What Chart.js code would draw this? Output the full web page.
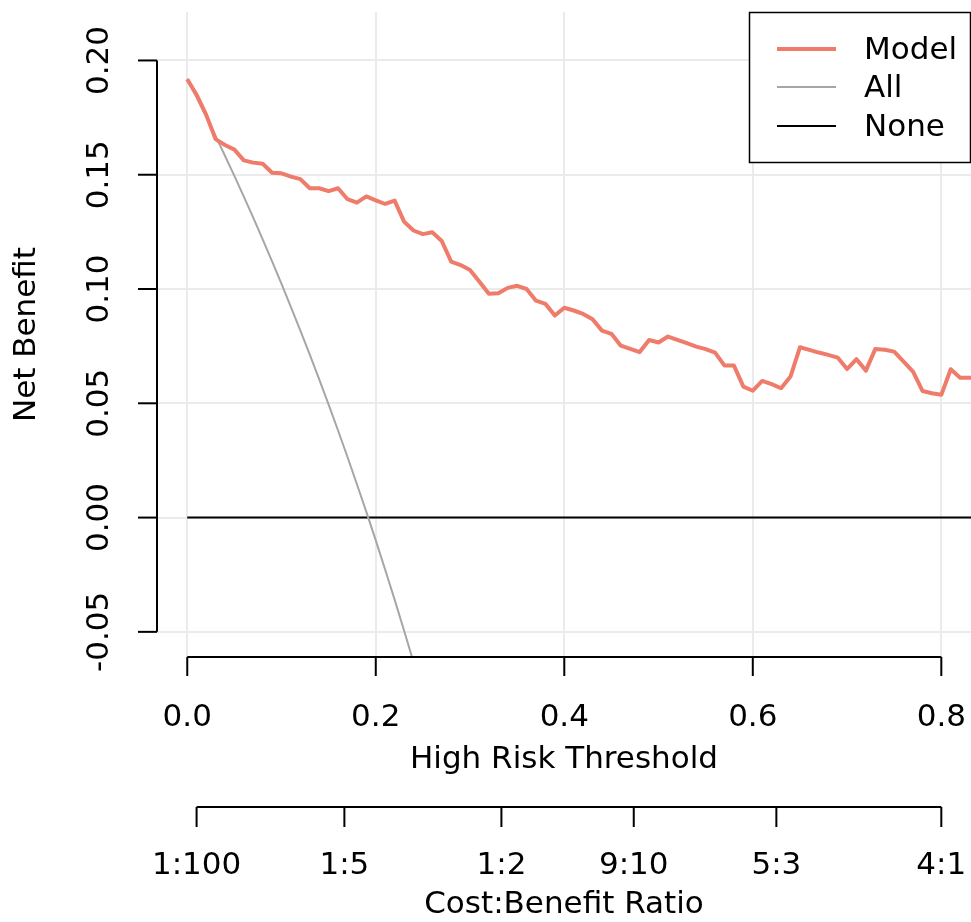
<!DOCTYPE html>
<html>
<head>
<meta charset="utf-8">
<script src="https://cdn.jsdelivr.net/npm/chart.js@4/dist/chart.umd.min.js"></script>
<style>
  body { margin: 0; background: #fff; }
  #wrap { width: 971px; height: 922px; }
</style>
</head>
<body>
<div id="wrap"><canvas id="dca" width="971" height="922"></canvas></div>
<script>
// thresholds (x) and net benefit values
const thresholds = [
    0.00, 0.01, 0.02, 0.03, 0.04, 0.05, 0.06, 0.07, 0.08, 0.09,
    0.10, 0.11, 0.12, 0.13, 0.14, 0.15, 0.16, 0.17, 0.18, 0.19,
    0.20, 0.21, 0.22, 0.23, 0.24, 0.25, 0.26, 0.27, 0.28, 0.29,
    0.30, 0.31, 0.32, 0.33, 0.34, 0.35, 0.36, 0.37, 0.38, 0.39,
    0.40, 0.41, 0.42, 0.43, 0.44, 0.45, 0.46, 0.47, 0.48, 0.49,
    0.50, 0.51, 0.52, 0.53, 0.54, 0.55, 0.56, 0.57, 0.58, 0.59,
    0.60, 0.61, 0.62, 0.63, 0.64, 0.65, 0.66, 0.67, 0.68, 0.69,
    0.70, 0.71, 0.72, 0.73, 0.74, 0.75, 0.76, 0.77, 0.78, 0.79,
    0.80, 0.81, 0.82, 0.83, 0.84
];
const modelNB = [
    0.1918, 0.1849, 0.1763, 0.1656, 0.1630, 0.1610, 0.1563, 0.1553, 0.1548, 0.1509,
    0.1506, 0.1492, 0.1481, 0.1441, 0.1441, 0.1428, 0.1441, 0.1393, 0.1378, 0.1405,
    0.1388, 0.1372, 0.1387, 0.1295, 0.1256, 0.1240, 0.1248, 0.1210, 0.1120, 0.1105,
    0.1083, 0.1032, 0.0979, 0.0982, 0.1005, 0.1014, 0.1000, 0.0949, 0.0935, 0.0884,
    0.0918, 0.0906, 0.0891, 0.0868, 0.0818, 0.0804, 0.0752, 0.0738, 0.0724, 0.0777,
    0.0766, 0.0792, 0.0777, 0.0763, 0.0748, 0.0737, 0.0722, 0.0665, 0.0665, 0.0573,
    0.0555, 0.0598, 0.0584, 0.0566, 0.0617, 0.0745, 0.0734, 0.0722, 0.0712, 0.0700,
    0.0650, 0.0693, 0.0643, 0.0738, 0.0734, 0.0726, 0.0682, 0.0639, 0.0554, 0.0544,
    0.0537, 0.0649, 0.0612, 0.0612, 0.0612
];
// "treat all" curve, first 25 thresholds (0.00 - 0.24)
const allNB = [
    0.1920, 0.1838, 0.1755, 0.1670, 0.1583, 0.1495, 0.1404, 0.1312, 0.1217, 0.1121,
    0.1022, 0.0921, 0.0818, 0.0713, 0.0605, 0.0494, 0.0381, 0.0265, 0.0146, 0.0025,
    -0.0100, -0.0228, -0.0359, -0.0494, -0.0632
];
const noneX = [0.00, 0.84];
const noneNB = [0, 0];

const xTicks = [0.0, 0.2, 0.4, 0.6, 0.8];
const xTickLabels = ['0.0', '0.2', '0.4', '0.6', '0.8'];
const yTicks = [-0.05, 0.00, 0.05, 0.10, 0.15, 0.20];
const yTickLabels = ['-0.05', '0.00', '0.05', '0.10', '0.15', '0.20'];
// cost:benefit axis, placed at the matching thresholds
const cbTicks = [0.0099, 0.1667, 0.3333, 0.4737, 0.625, 0.8];
const cbLabels = ['1:100', '1:5', '1:2', '9:10', '5:3', '4:1'];

const FONT = '31px "DejaVu Sans"';
const modelColor = '#EF7B6A';
const allColor = '#A6A6A6';
const noneColor = '#000000';

const pairs = (xs, ys) => ys.map((y, i) => ({ x: xs[i], y: y }));

// grid, axes, labels and legend drawn in R base-graphics style
const rAxes = {
    id: 'rAxes',
    beforeDatasetsDraw(chart) {
        const { ctx, chartArea: a, scales: { x, y } } = chart;
        ctx.save();
        ctx.strokeStyle = '#EBEBEB';
        ctx.lineWidth = 2;
        xTicks.forEach(v => {
            const px = Math.round(x.getPixelForValue(v));
            ctx.beginPath(); ctx.moveTo(px, a.top); ctx.lineTo(px, a.bottom); ctx.stroke();
        });
        yTicks.forEach(v => {
            const py = Math.round(y.getPixelForValue(v));
            ctx.beginPath(); ctx.moveTo(a.left, py); ctx.lineTo(a.right, py); ctx.stroke();
        });
        ctx.restore();
    },
    afterDatasetsDraw(chart) {
        const { ctx, chartArea: a, scales: { x, y } } = chart;
        ctx.save();
        ctx.strokeStyle = '#000';
        ctx.fillStyle = '#000';
        ctx.lineWidth = 2;
        ctx.font = FONT;

        // y axis
        const yTop = y.getPixelForValue(0.20), yBot = y.getPixelForValue(-0.05);
        ctx.beginPath(); ctx.moveTo(a.left, yTop); ctx.lineTo(a.left, yBot); ctx.stroke();
        yTicks.forEach((v, i) => {
            const py = y.getPixelForValue(v);
            ctx.beginPath(); ctx.moveTo(a.left, py); ctx.lineTo(a.left - 19, py); ctx.stroke();
            ctx.save();
            ctx.translate(100, py);
            ctx.rotate(-Math.PI / 2);
            ctx.textAlign = 'center'; ctx.textBaseline = 'middle';
            ctx.fillText(yTickLabels[i], 0, 0);
            ctx.restore();
        });
        ctx.save();
        ctx.translate(27, (a.top + a.bottom) / 2);
        ctx.rotate(-Math.PI / 2);
        ctx.textAlign = 'center'; ctx.textBaseline = 'middle';
        ctx.fillText('Net Benefit', 0, 0);
        ctx.restore();

        // x axis
        const xAxisY = a.bottom;
        ctx.beginPath();
        ctx.moveTo(x.getPixelForValue(0), xAxisY); ctx.lineTo(x.getPixelForValue(0.8), xAxisY);
        ctx.stroke();
        ctx.textAlign = 'center'; ctx.textBaseline = 'middle';
        xTicks.forEach((v, i) => {
            const px = x.getPixelForValue(v);
            ctx.beginPath(); ctx.moveTo(px, xAxisY); ctx.lineTo(px, xAxisY + 19); ctx.stroke();
            ctx.fillText(xTickLabels[i], px, 718);
        });
        const midX = (a.left + a.right) / 2;
        ctx.fillText('High Risk Threshold', midX, 760);

        // cost:benefit axis
        const cbY = 807;
        ctx.beginPath();
        ctx.moveTo(x.getPixelForValue(cbTicks[0]), cbY);
        ctx.lineTo(x.getPixelForValue(cbTicks[cbTicks.length - 1]), cbY);
        ctx.stroke();
        cbTicks.forEach((v, i) => {
            const px = x.getPixelForValue(v);
            ctx.beginPath(); ctx.moveTo(px, cbY); ctx.lineTo(px, cbY + 20); ctx.stroke();
            ctx.fillText(cbLabels[i], px, 866);
        });
        ctx.fillText('Cost:Benefit Ratio', midX, 905);

        // legend box
        const lx = 749, ly = 12, lw = 221, lh = 150;
        ctx.fillStyle = '#fff';
        ctx.fillRect(lx, ly, lw, lh);
        ctx.lineWidth = 1.5;
        ctx.strokeStyle = '#000';
        ctx.strokeRect(lx + 0.5, ly + 0.5, lw, lh);
        const rows = [49, 87, 126];
        chart.data.datasets.forEach((ds, i) => {
            ctx.strokeStyle = ds.borderColor;
            ctx.lineWidth = ds.borderWidth;
            ctx.beginPath(); ctx.moveTo(777, rows[i]); ctx.lineTo(836, rows[i]); ctx.stroke();
            ctx.fillStyle = '#000';
            ctx.textAlign = 'left';
            ctx.fillText(ds.label, 864, rows[i] + 2);
        });
        ctx.restore();
    }
};

new Chart(document.getElementById('dca'), {
    type: 'line',
    data: {
        datasets: [
            { label: 'Model', data: pairs(thresholds, modelNB), borderColor: modelColor, borderWidth: 4 },
            { label: 'All', data: pairs(thresholds, allNB), borderColor: allColor, borderWidth: 2 },
            { label: 'None', data: pairs(noneX, noneNB), borderColor: noneColor, borderWidth: 2 }
        ]
    },
    options: {
        responsive: false,
        animation: false,
        devicePixelRatio: 1,
        layout: { padding: { left: 157, right: 0, top: 12, bottom: 265 } },
        elements: {
            point: { radius: 0 },
            line: { tension: 0, borderJoinStyle: 'round', borderCapStyle: 'butt' }
        },
        datasets: { line: { clip: 0 } },
        scales: {
            x: { type: 'linear', min: -0.0321, max: 0.8315, display: false },
            y: { type: 'linear', min: -0.0610, max: 0.2212, display: false }
        },
        plugins: { legend: { display: false }, tooltip: { enabled: false } }
    },
    plugins: [rAxes]
});
</script>
</body>
</html>
